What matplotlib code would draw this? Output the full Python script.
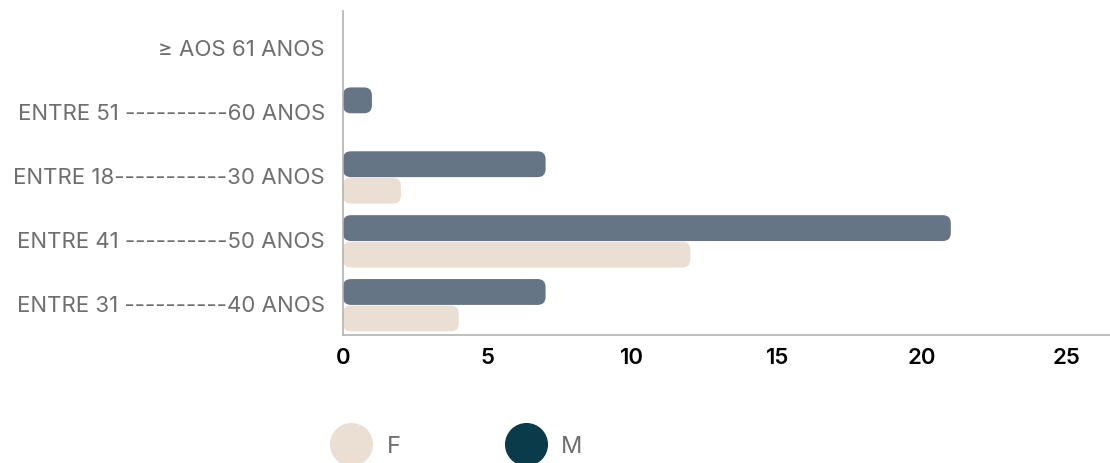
import numpy as np
import matplotlib.pyplot as plt
from matplotlib.patches import FancyBboxPatch
from matplotlib.lines import Line2D

plt.rcParams['font.family'] = ['Inter', 'DejaVu Sans']

# age groups, listed bottom to top
faixas = ['ENTRE 31 ----------40 ANOS', 'ENTRE 41 ----------50 ANOS',
          'ENTRE 18-----------30 ANOS', 'ENTRE 51 ----------60 ANOS',
          '≥ AOS 61 ANOS']
fem = [4, 12, 2, 0, 0]
masc = [7, 21, 7, 1, 0]
xticks = [0, 5, 10, 15, 20, 25]

cor_f = '#ebdfd4'
cor_m = '#667586'
cor_m_leg = '#0a3b4a'

fig = plt.figure(figsize=(11.1, 4.64), dpi=100)
ax = fig.add_axes([0.309, 0.276, 0.691, 0.698])

xmax = 26.5
ax.set_xlim(0, xmax)
ax.set_ylim(-0.5, 4.57)

h = 0.405
# px per data unit, used to keep the rounded corners circular
px_x = ax.get_position().width * 1110 / xmax
px_y = ax.get_position().height * 464 / (4.57 + 0.5)
aspect = px_x / px_y
raio = 8 / px_x

y = np.arange(len(faixas))
for i in range(len(faixas)):
    for val, y0, cor in [(masc[i], y[i] - 0.03, cor_m), (fem[i], y[i] - 0.03 - h - 0.01, cor_f)]:
        if val <= 0:
            continue
        p = FancyBboxPatch((0, y0), val, h,
                           boxstyle='round,pad=0,rounding_size=%f' % raio,
                           mutation_aspect=aspect, fc=cor, ec='none')
        ax.add_patch(p)

ax.set_yticks(y)
ax.set_yticklabels(faixas, fontsize=16, color='#6e6e6e')
ax.set_xticks(xticks)
ax.set_xticklabels([str(t) for t in xticks], fontsize=16, fontweight='semibold', color='black')
ax.tick_params(length=0)
ax.tick_params(axis='y', pad=13)
ax.tick_params(axis='x', pad=9)

for s in ['top', 'right']:
    ax.spines[s].set_visible(False)
for s in ['left', 'bottom']:
    ax.spines[s].set_color('#b3b3b3')
    ax.spines[s].set_linewidth(1.2)

handles = [Line2D([], [], ls='none', marker='o', markersize=30, color=cor_f),
           Line2D([], [], ls='none', marker='o', markersize=30, color=cor_m_leg)]
leg = fig.legend(handles, ['F', 'M'], loc='center', bbox_to_anchor=(0.41, 0.036),
                 ncol=2, frameon=False, fontsize=17, columnspacing=4.3,
                 handletextpad=0.5, borderaxespad=0)
for t in leg.get_texts():
    t.set_color('#6e6e6e')

fig.savefig('out.png', dpi=100)
